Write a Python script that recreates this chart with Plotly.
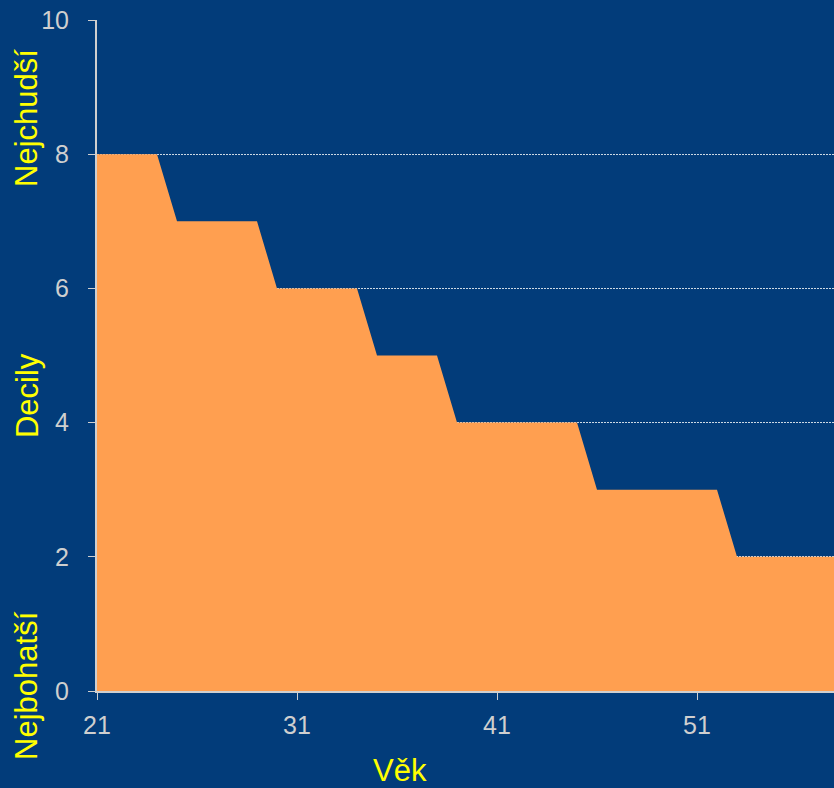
import plotly.graph_objects as go

ages = list(range(21, 59))
deciles = [8, 8, 8, 8,          # 21-24
           7, 7, 7, 7, 7,       # 25-29
           6, 6, 6, 6, 6,       # 30-34
           5, 5, 5, 5,          # 35-38
           4, 4, 4, 4, 4, 4, 4, # 39-45
           3, 3, 3, 3, 3, 3, 3, # 46-52
           2, 2, 2, 2, 2, 2]    # 53-58
x_ticks = [21, 31, 41, 51]
y_ticks = [0, 2, 4, 6, 8, 10]

bg = "#023c7a"
orange = "#ff9f50"
tick_col = "#cfcfcf"
yellow = "#ffff00"

fig = go.Figure(go.Scatter(
    x=ages, y=deciles, mode="lines", fill="tozeroy",
    fillcolor=orange, line=dict(width=0, color=orange), hoverinfo="skip",
))

font = "Liberation Sans, Arial, sans-serif"
fig.update_layout(
    width=834, height=788,
    margin=dict(l=97, r=0, t=20, b=97),
    paper_bgcolor=bg, plot_bgcolor=bg,
    showlegend=False,
    font=dict(family=font, color=tick_col, size=25),
    xaxis=dict(range=[21, 21 + 737 / 20], tickvals=x_ticks, ticks="outside",
               ticklen=7, tickcolor=tick_col, tickwidth=1,
               showline=True, linecolor=tick_col, linewidth=2,
               showgrid=False, zeroline=False, ticklabelstandoff=4,
               tickfont=dict(size=25, color=tick_col)),
    yaxis=dict(range=[0, 10], tickvals=y_ticks, ticks="outside",
               ticklen=7, tickcolor=tick_col, tickwidth=1,
               showline=True, linecolor=tick_col, linewidth=2,
               showgrid=True, gridcolor="rgba(255,255,255,0.8)", griddash="2px,1px",
               gridwidth=1, zeroline=False, ticklabelstandoff=14,
               tickfont=dict(size=25, color=tick_col)),
)

ann_font = dict(family=font, color=yellow, size=31)
for text, yp in [("Nejchudší", 0.854), ("Decily", 0.441), ("Nejbohatší", 0.009)]:
    fig.add_annotation(text=text, xref="paper", yref="paper", x=-0.095, y=yp,
                       xanchor="center", yanchor="middle", textangle=-90,
                       showarrow=False, font=ann_font)
fig.add_annotation(text="Věk", xref="paper", yref="paper", x=0.411, y=-0.118,
                   xanchor="center", yanchor="middle", showarrow=False, font=ann_font)

fig.write_html("out.html",
               config={"displayModeBar": False},
               post_script="document.body.style.margin='0';document.body.style.overflow='hidden';document.body.style.background='%s';" % bg)
